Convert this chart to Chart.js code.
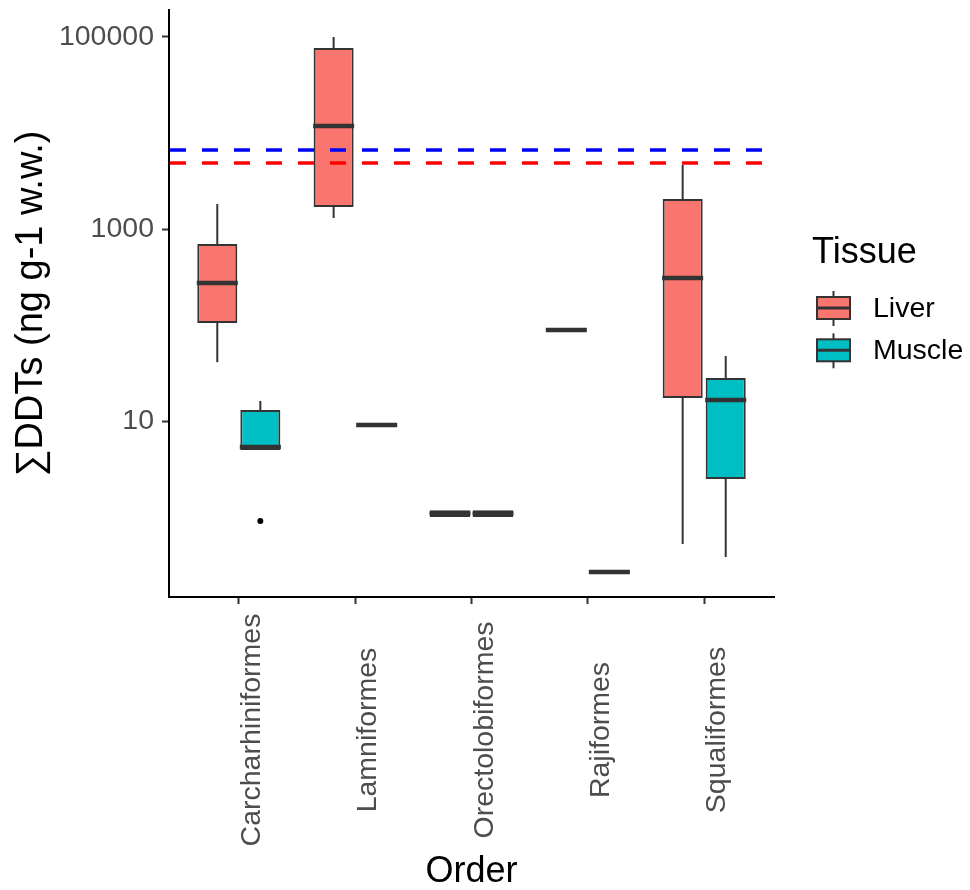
<!DOCTYPE html>
<html>
<head>
<meta charset="utf-8">
<script src="https://cdn.jsdelivr.net/npm/chart.js@4.4.1/dist/chart.umd.min.js"></script>
<style>
  html, body { margin: 0; padding: 0; background: #ffffff; }
  #wrap { width: 970px; height: 890px; }
  canvas { display: block; }
</style>
</head>
<body>
<div id="wrap"><canvas id="chart" width="970" height="890"></canvas></div>
<script>
// ---------------- data ----------------
const categories = ['Carcharhiniformes', 'Lamniformes', 'Orectolobiformes', 'Rajiformes', 'Squaliformes'];
const tissues = ['Liver', 'Muscle'];

const liverLow    = [41,   1303,   1.0,  88.7, 0.524];
const liverQ1     = [105,  1695,   1.0,  88.7, 17.4];
const liverMedian = [274,  11800,  1.09, 88.7, 309];
const liverQ3     = [698,  76800,  1.18, 88.7, 2053];
const liverHigh   = [1820, 100000, 1.18, 88.7, 4640];
const liverOutliers = [[], [], [], [], []];

const muscleLow    = [4.99, 9.08, 1.0,  0.267, 0.383];
const muscleQ1     = [4.99, 9.08, 1.0,  0.267, 2.49];
const muscleMedian = [5.36, 9.08, 1.09, 0.267, 16.6];
const muscleQ3     = [13.0, 9.08, 1.18, 0.267, 28.1];
const muscleHigh   = [16.2, 9.08, 1.18, 0.267, 47.5];
const muscleOutliers = [[0.91], [], [], [], []];

const thresholdBlue = 6650;
const thresholdRed = 4870;

const yTickValues = [10, 1000, 100000];
const yMin = 0.147;
const yMax = 191000;
const xMin = -0.6;
const xMax = 4.6;

// ---------------- style ----------------
const FONT = "'Liberation Sans', Arial, Helvetica, sans-serif";
const fills = ['#F8766D', '#00BFC4'];
const edge = '#333333';

const stats = [
  { low: liverLow, q1: liverQ1, med: liverMedian, q3: liverQ3, high: liverHigh, out: liverOutliers },
  { low: muscleLow, q1: muscleQ1, med: muscleMedian, q3: muscleQ3, high: muscleHigh, out: muscleOutliers }
];

const datasets = tissues.map((t, k) => ({
  type: 'bar',
  label: t,
  data: categories.map((c, i) => ({ x: i, y: [stats[k].q1[i], stats[k].q3[i]] })),
  backgroundColor: fills[k],
  borderColor: edge,
  borderWidth: 2,
  borderSkipped: false,
  categoryPercentage: 0.74,
  barPercentage: 0.93
}));

const boxPlugin = {
  id: 'boxExtras',
  afterDatasetsDraw(chart) {
    const ctx = chart.ctx;
    const ys = chart.scales.y;
    const area = chart.chartArea;
    ctx.save();
    stats.forEach((s, k) => {
      const meta = chart.getDatasetMeta(k);
      meta.data.forEach((bar, i) => {
        const cx = bar.x;
        const half = bar.width / 2;
        const pLow = ys.getPixelForValue(s.low[i]);
        const pQ1 = ys.getPixelForValue(s.q1[i]);
        const pQ3 = ys.getPixelForValue(s.q3[i]);
        const pHigh = ys.getPixelForValue(s.high[i]);
        const pMed = ys.getPixelForValue(s.med[i]);
        ctx.strokeStyle = edge;
        ctx.lineWidth = 2;
        ctx.lineCap = 'butt';
        if (pHigh < pQ3) { ctx.beginPath(); ctx.moveTo(cx, pQ3); ctx.lineTo(cx, pHigh); ctx.stroke(); }
        if (pLow > pQ1) { ctx.beginPath(); ctx.moveTo(cx, pQ1); ctx.lineTo(cx, pLow); ctx.stroke(); }
        ctx.lineWidth = 4.5;
        ctx.lineCap = 'butt';
        ctx.beginPath(); ctx.moveTo(cx - half - 0.5, pMed); ctx.lineTo(cx + half + 0.5, pMed); ctx.stroke();
        ctx.fillStyle = '#000000';
        s.out[i].forEach(v => {
          ctx.beginPath(); ctx.arc(cx, ys.getPixelForValue(v), 3, 0, Math.PI * 2); ctx.fill();
        });
      });
    });
    // threshold dashed lines
    [[thresholdBlue, '#0000FF'], [thresholdRed, '#FF0000']].forEach(([v, col]) => {
      const py = ys.getPixelForValue(v);
      ctx.strokeStyle = col;
      ctx.lineWidth = 3.5;
      ctx.lineCap = 'butt';
      ctx.setLineDash([16, 16]);
      ctx.beginPath(); ctx.moveTo(area.left + 1, py); ctx.lineTo(area.right, py); ctx.stroke();
    });
    ctx.setLineDash([]);
    ctx.restore();
  },
  afterDraw(chart) {
    const ctx = chart.ctx;
    const xs = chart.scales.x;
    ctx.save();
    // x tick labels (rotated, centred)
    ctx.font = '28.5px ' + FONT;
    ctx.fillStyle = '#4D4D4D';
    ctx.textAlign = 'center';
    ctx.textBaseline = 'alphabetic';
    categories.forEach((c, i) => {
      const px = xs.getPixelForValue(i);
      ctx.save();
      ctx.translate(px + 21, 730);
      ctx.rotate(-Math.PI / 2);
      ctx.fillText(c, 0, 0);
      ctx.restore();
    });
    // legend
    const lx = 817, kw = 33, kh = 22;
    ctx.fillStyle = '#000000';
    ctx.textAlign = 'left';
    ctx.textBaseline = 'middle';
    ctx.font = '36px ' + FONT;
    ctx.fillText('Tissue', 812, 253);
    tissues.forEach((t, k) => {
      const cy = 308 + k * 42.3;
      ctx.strokeStyle = edge;
      ctx.lineWidth = 2;
      ctx.beginPath(); ctx.moveTo(lx + kw / 2, cy - 17); ctx.lineTo(lx + kw / 2, cy + 18); ctx.stroke();
      ctx.fillStyle = fills[k];
      ctx.fillRect(lx, cy - kh / 2, kw, kh);
      ctx.strokeRect(lx, cy - kh / 2, kw, kh);
      ctx.lineWidth = 3;
      ctx.beginPath(); ctx.moveTo(lx, cy); ctx.lineTo(lx + kw, cy); ctx.stroke();
      ctx.fillStyle = '#000000';
      ctx.font = '28.5px ' + FONT;
      ctx.fillText(t, 873, cy + 1);
    });
    ctx.restore();
  }
};

new Chart(document.getElementById('chart'), {
  type: 'bar',
  data: { datasets },
  plugins: [boxPlugin],
  options: {
    responsive: false,
    animation: false,
    events: [],
    layout: { padding: { left: 0, top: 10, right: 196, bottom: 0 } },
    plugins: { legend: { display: false }, tooltip: { enabled: false } },
    scales: {
      x: {
        type: 'linear',
        min: xMin,
        max: xMax,
        offset: false,
        afterBuildTicks: (scale) => { scale.ticks = categories.map((c, i) => ({ value: i })); },
        afterFit: (scale) => { scale.height = 293; scale.paddingLeft = 0; scale.paddingRight = 0; },
        ticks: { display: false },
        grid: { offset: false, drawOnChartArea: false, drawTicks: true, tickLength: 7, tickColor: '#333333', tickWidth: 2 },
        border: { display: true, color: '#000000', width: 2 },
        title: {
          display: true, text: 'Order', color: '#000000',
          font: { family: FONT, size: 36, lineHeight: 1.0 },
          padding: { top: 0, bottom: 0 }
        }
      },
      y: {
        type: 'logarithmic',
        min: yMin,
        max: yMax,
        afterBuildTicks: (scale) => { scale.ticks = yTickValues.map(v => ({ value: v })); },
        afterFit: (scale) => { scale.width = 169; scale.paddingTop = 0; scale.paddingBottom = 0; },
        ticks: {
          color: '#4D4D4D',
          font: { family: FONT, size: 28.5 },
          padding: 8,
          callback: (v) => String(v)
        },
        grid: { drawOnChartArea: false, drawTicks: true, tickLength: 7, tickColor: '#333333', tickWidth: 2 },
        border: { display: true, color: '#000000', width: 2 },
        title: {
          display: true, text: '∑DDTs (ng g-1 w.w.)', color: '#000000',
          font: { family: FONT, size: 38, lineHeight: 1.0 },
          padding: { top: 13, bottom: 0 }
        }
      }
    }
  }
});
</script>
</body>
</html>
